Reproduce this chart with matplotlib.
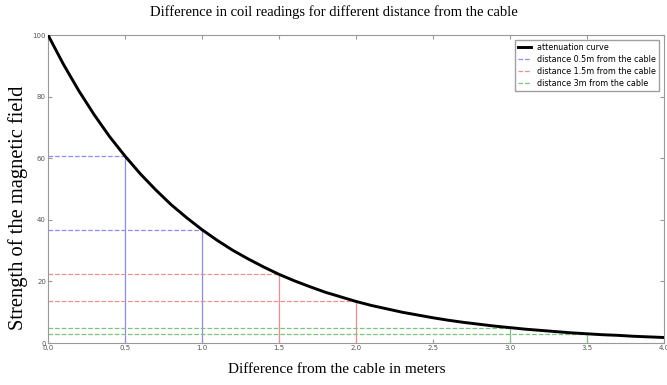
import matplotlib
matplotlib.use("Agg")
from matplotlib import pyplot as plt

# Attenuation curve (distance in m, field strength)
distance = [0.0, 0.1, 0.2, 0.3, 0.4, 0.5, 0.6, 0.7, 0.8, 0.9,
            1.0, 1.1, 1.2, 1.3, 1.4, 1.5, 1.6, 1.7, 1.8, 1.9,
            2.0, 2.1, 2.2, 2.3, 2.4, 2.5, 2.6, 2.7, 2.8, 2.9,
            3.0, 3.1, 3.2, 3.3, 3.4, 3.5, 3.6, 3.7, 3.8, 3.9, 4.0]
strength = [100.0, 90.5, 81.9, 74.1, 67.0, 60.7, 54.9, 49.7, 44.9, 40.7,
            36.8, 33.3, 30.1, 27.3, 24.7, 22.3, 20.2, 18.3, 16.5, 15.0,
            13.5, 12.2, 11.1, 10.0, 9.1, 8.2, 7.4, 6.7, 6.1, 5.5,
            5.0, 4.5, 4.1, 3.7, 3.3, 3.0, 2.7, 2.5, 2.2, 2.0, 1.8]

# Coil pairs: (first coil, second coil) positions and readings
labels = ["distance 0.5m from the cable",
          "distance 1.5m from the cable",
          "distance 3m from the cable"]
coil_pos = [[0.5, 1.0], [1.5, 2.0], [3.0, 3.5]]
coil_read = [[60.7, 36.8], [22.3, 13.5], [5.0, 3.0]]
colors = ["#8c8cf0", "#f08c8c", "#7cc47c"]

SERIF = ["Liberation Serif", "DejaVu Serif"]


def main():
    fig = plt.figure(figsize=(6.67, 3.85), dpi=100)
    ax = fig.add_axes([0.072, 0.109, 0.9235, 0.8])

    ax.plot(distance, strength, color="black", lw=2.1, label="attenuation curve", zorder=5)

    for lab, xs, ys, c in zip(labels, coil_pos, coil_read, colors):
        for i, (x, y) in enumerate(zip(xs, ys)):
            ax.plot([0, x], [y, y], "--", color=c, lw=0.9,
                    label=lab if i == 0 else None)
            ax.plot([x, x], [0, y], "-", color=c, lw=0.9)

    ax.set_xlim(0, 4)
    ax.set_ylim(0, 100)
    ax.set_xticks([0.0, 0.5, 1.0, 1.5, 2.0, 2.5, 3.0, 3.5, 4.0])
    ax.set_yticks([0, 20, 40, 60, 80, 100])
    ax.tick_params(direction="in", top=True, right=True, labelsize=5,
                   labelcolor="#555555", color="#999999", length=3, pad=1.5)
    for s in ax.spines.values():
        s.set_color("#999999")

    leg = ax.legend(loc="upper right", fontsize=5.8, handlelength=1.6,
                    fancybox=False, borderaxespad=0.6, labelspacing=0.35)
    leg.get_frame().set_edgecolor("#888888")

    fig.text(0.5, 0.968, "Difference in coil readings for different distance from the cable",
             ha="center", va="center", fontsize=10.5, family=SERIF)
    fig.text(0.505, 0.039, "Difference from the cable in meters",
             ha="center", va="center", fontsize=11, family=SERIF)
    fig.text(0.027, 0.46, "Strength of the magnetic field", rotation=90,
             ha="center", va="center", fontsize=14.8, family=SERIF)

    fig.savefig("out.png", dpi=100)


if __name__ == "__main__":
    main()
